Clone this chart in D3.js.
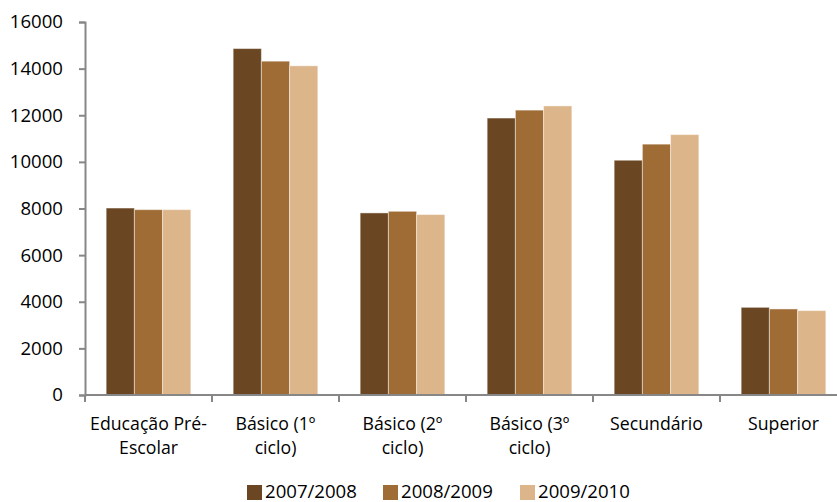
<!DOCTYPE html>
<html>
<head>
<meta charset="utf-8">
<script src="https://cdn.jsdelivr.net/npm/d3@7"></script>
<style>
  html, body { margin: 0; padding: 0; background: #fff; }
  svg { display: block; font-family: "Open Sans", sans-serif; }
</style>
</head>
<body>
<svg id="chart" width="837" height="502"></svg>
<script>
// Enrolments by education level, three school years
const categories = [
  ["Educação Pré-", "Escolar"],
  ["Básico (1º", "ciclo)"],
  ["Básico (2º", "ciclo)"],
  ["Básico (3º", "ciclo)"],
  ["Secundário"],
  ["Superior"]
];
const seriesNames = ["2007/2008", "2008/2009", "2009/2010"];
const values2007 = [8020, 14860, 7810, 11880, 10070, 3760];
const values2008 = [7950, 14320, 7880, 12220, 10760, 3690];
const values2009 = [7950, 14120, 7740, 12400, 11170, 3620];
const yTicks = [0, 2000, 4000, 6000, 8000, 10000, 12000, 14000, 16000];
const colors = ["#6A4623", "#9E6C34", "#DCB58A"];

const series = [values2007, values2008, values2009];

const svg = d3.select("#chart");
const plotLeft = 85, plotRight = 847, plotTop = 22, plotBottom = 395;

const x = d3.scaleBand()
  .domain(d3.range(categories.length))
  .range([plotLeft, plotRight])
  .paddingInner(0)
  .paddingOuter(0);

// Bars occupy the middle of each category (gap width 150%)
const barW = x.bandwidth() / 4.5;
const groupOffset = (x.bandwidth() - barW * 3) / 2;

const y = d3.scaleLinear().domain([0, 16000]).range([plotBottom, plotTop]);

// Bars
series.forEach((vals, si) => {
  svg.append("g")
    .selectAll("rect")
    .data(vals)
    .join("rect")
    .attr("x", (d, i) => x(i) + groupOffset + si * barW)
    .attr("y", d => y(d))
    .attr("width", barW)
    .attr("height", d => y(0) - y(d))
    .attr("fill", colors[si])
    .attr("stroke", "rgba(255,255,255,0.45)")
    .attr("stroke-width", 1);
});

// Y axis
const yAxis = d3.axisLeft(y).tickValues(yTicks).tickSize(6).tickPadding(16).tickFormat(d3.format("d"));
const gy = svg.append("g").attr("transform", `translate(${plotLeft},0)`).call(yAxis);
gy.select(".domain").attr("stroke", "#878787").attr("stroke-width", 2);
gy.selectAll(".tick line").attr("stroke", "#878787").attr("stroke-width", 2);
gy.selectAll(".tick text").attr("font-size", 18.6).attr("fill", "#000").attr("font-family", "Open Sans");

// X axis baseline and category dividers
const xAxisG = svg.append("g");
xAxisG.append("line")
  .attr("x1", plotLeft).attr("x2", plotRight)
  .attr("y1", plotBottom).attr("y2", plotBottom)
  .attr("stroke", "#878787").attr("stroke-width", 2);
xAxisG.selectAll("line.div")
  .data(d3.range(categories.length + 1))
  .join("line")
  .attr("class", "div")
  .attr("x1", i => plotLeft + i * x.bandwidth())
  .attr("x2", i => plotLeft + i * x.bandwidth())
  .attr("y1", plotBottom).attr("y2", plotBottom + 7)
  .attr("stroke", "#878787").attr("stroke-width", 2);

// Category labels
const lab = svg.append("g").selectAll("text")
  .data(categories)
  .join("text")
  .attr("text-anchor", "middle")
  .attr("font-size", 17.7)
  .attr("fill", "#000")
  .attr("transform", (d, i) => `translate(${x(i) + x.bandwidth() / 2},${430})`);
lab.selectAll("tspan")
  .data(d => d)
  .join("tspan")
  .attr("x", 0)
  .attr("dy", (d, j) => j === 0 ? 0 : 24)
  .text(d => d);

// Legend
const legendX = [247, 383, 520];
const lg = svg.append("g").selectAll("g")
  .data(seriesNames)
  .join("g")
  .attr("transform", (d, i) => `translate(${legendX[i]},${485})`);
lg.append("rect")
  .attr("width", 15).attr("height", 15)
  .attr("fill", (d, i) => colors[i]);
lg.append("text")
  .attr("x", 18).attr("y", 13)
  .attr("font-size", 18.6)
  .attr("fill", "#000")
  .text(d => d);
</script>
</body>
</html>
